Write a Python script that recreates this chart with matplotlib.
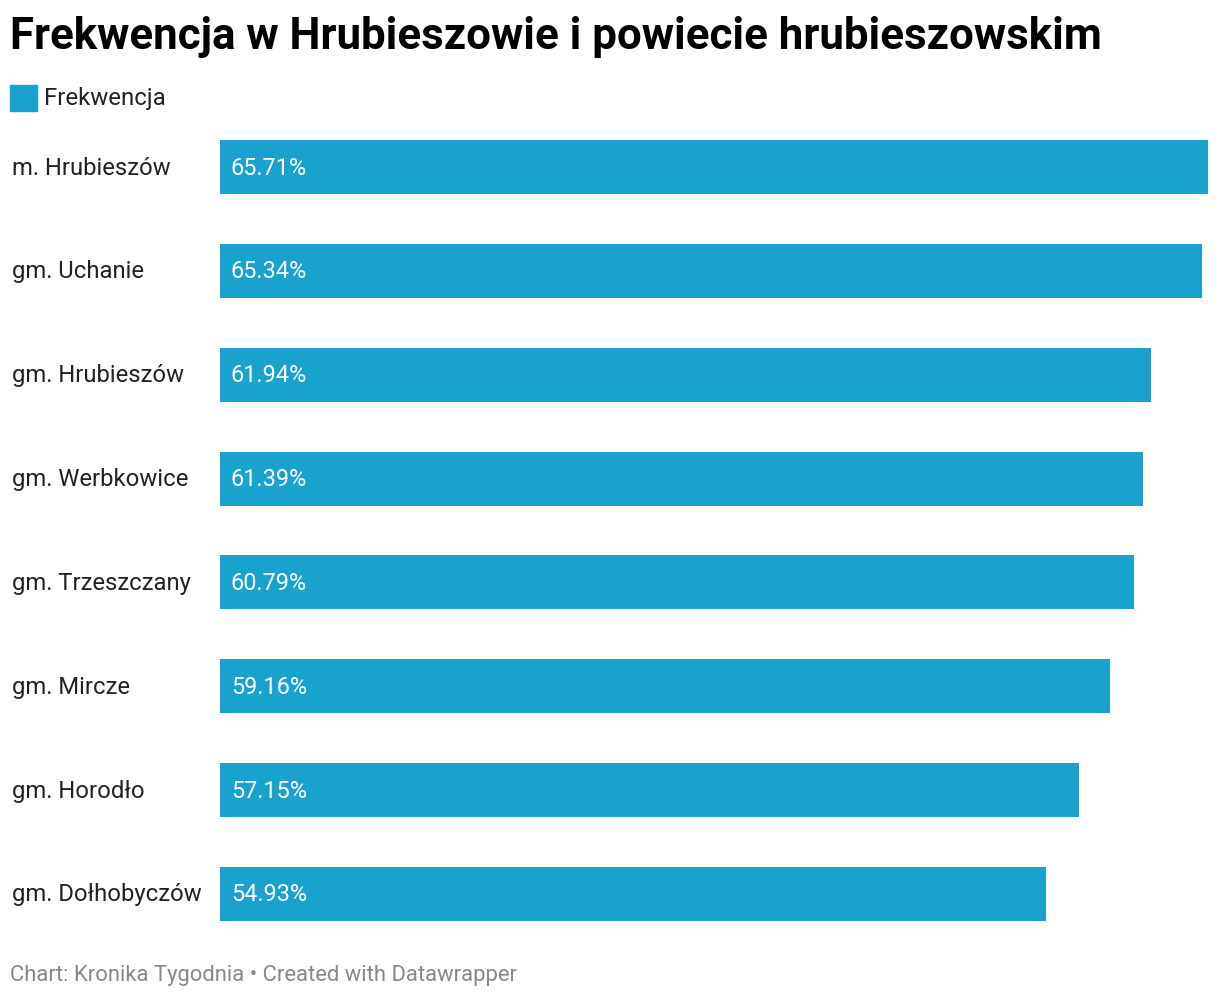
import matplotlib.pyplot as plt
from matplotlib.patches import Rectangle

plt.rcParams['font.family'] = ['Roboto', 'DejaVu Sans']

# Data
gminy = ['m. Hrubieszów', 'gm. Uchanie', 'gm. Hrubieszów', 'gm. Werbkowice',
         'gm. Trzeszczany', 'gm. Mircze', 'gm. Horodło', 'gm. Dołhobyczów']
frekwencja = [65.71, 65.34, 61.94, 61.39, 60.79, 59.16, 57.15, 54.93]
etykiety = ['65.71%', '65.34%', '61.94%', '61.39%', '60.79%', '59.16%', '57.15%', '54.93%']

W, H = 1220, 998
color = '#1aa2cf'

fig = plt.figure(figsize=(W / 100, H / 100), dpi=100)
fig.patch.set_facecolor('white')

# axes placed in pixel coords of the reference
left, right, top, bottom = 220, 1208, 140, 921
ax = fig.add_axes([left / W, 1 - bottom / H, (right - left) / W, (bottom - top) / H])

bar_h = 0.52
pos = list(range(len(gminy)))
ax.barh(pos, frekwencja, height=bar_h, color=color)
ax.set_xlim(0, max(frekwencja))
ax.set_ylim(len(gminy) - 1 + bar_h / 2, -bar_h / 2)
ax.axis('off')

# value labels inside bars
for i, t in enumerate(etykiety):
    ax.annotate(t, xy=(0, i), xycoords='data', xytext=(11, -1),
                textcoords='offset pixels', fontsize=16.9, color='white',
                va='center', ha='left')

# category labels on the left
for i, name in enumerate(gminy):
    ax.annotate(name, xy=(0, i), xycoords='data', xytext=(-208, -1),
                textcoords='offset pixels', fontsize=17.2, color='#222222',
                va='center', ha='left')

# title, legend, footer
fig.text(10 / W, 1 - 37 / H, 'Frekwencja w Hrubieszowie i powiecie hrubieszowskim',
         fontsize=31.6, fontweight='bold', color='black', va='center', ha='left')
fig.patches.append(Rectangle((10 / W, 1 - 111 / H), 27 / W, 26 / H,
                             transform=fig.transFigure, color=color))
fig.text(44 / W, 1 - 99 / H, 'Frekwencja', fontsize=17.3, color='#222222',
         va='center', ha='left')
fig.text(10 / W, 1 - 975 / H, 'Chart: Kronika Tygodnia • Created with Datawrapper',
         fontsize=15.8, color='#888888', va='center', ha='left')

fig.savefig('out.png', dpi=100)
